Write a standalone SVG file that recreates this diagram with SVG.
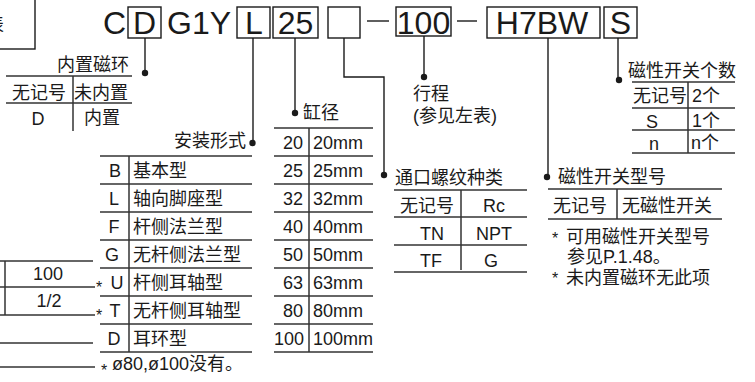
<svg xmlns="http://www.w3.org/2000/svg" width="755" height="382" viewBox="0 0 755 382">
<style>
.t{font-family:"Liberation Sans","Noto Sans CJK SC",sans-serif;fill:#1a1a1a;font-size:18px}
.code{font-size:32px}
.m{text-anchor:middle}
.e{text-anchor:end}
.box{fill:none;stroke:#1a1a1a;stroke-width:1.4}
.tl{stroke:#333;stroke-width:1.5;fill:none}
.cn{stroke:#1a1a1a;stroke-width:1.4;fill:none}
.dot{fill:#1a1a1a}
.ast{font-size:16px}
</style>
<rect width="755" height="382" fill="#fff"/>

<g id="left-box">
<rect class="box" x="-10" y="-5" width="45" height="54"/>
<text class="t e" x="4" y="31" font-size="20">表</text>
</g>

<g id="code">
<text class="t code" x="103" y="34">C</text>
<rect class="box" x="128" y="7" width="33" height="31"/>
<text class="t code m" x="144.5" y="34">D</text>
<text class="t code" x="167" y="34">G1Y</text>
<rect class="box" x="237" y="7" width="33" height="31"/>
<text class="t code m" x="254" y="34">L</text>
<rect class="box" x="273" y="7" width="45" height="31"/>
<text class="t code m" x="295.5" y="34">25</text>
<rect class="box" x="328" y="7" width="32" height="31"/>
<line class="cn" x1="367" y1="21" x2="389" y2="21"/>
<rect class="box" x="396" y="7" width="55" height="29"/>
<text class="t code m" x="423.5" y="34">100</text>
<line class="cn" x1="457" y1="21" x2="477" y2="21"/>
<rect class="box" x="487" y="7" width="113" height="31"/>
<text class="t code m" x="542" y="34">H7BW</text>
<rect class="box" x="604" y="7" width="33" height="31"/>
<text class="t code m" x="620.5" y="34">S</text>
</g>

<g id="connectors">
<line class="cn" x1="145" y1="38" x2="145" y2="73"/>
<circle class="dot" cx="145" cy="73" r="3.2"/>
<line class="cn" x1="253" y1="38" x2="253" y2="143"/>
<circle class="dot" cx="252.5" cy="143" r="3.2"/>
<line class="cn" x1="295" y1="38" x2="295" y2="113"/>
<circle class="dot" cx="295" cy="113" r="3.2"/>
<polyline class="cn" points="344,38 344,77 384,77 384,175"/>
<circle class="dot" cx="384" cy="175" r="3.2"/>
<line class="cn" x1="424" y1="36" x2="424" y2="77"/>
<circle class="dot" cx="424" cy="77" r="3.2"/>
<line class="cn" x1="548" y1="38" x2="548" y2="177"/>
<circle class="dot" cx="547" cy="177" r="3.2"/>
<line class="cn" x1="618" y1="38" x2="618" y2="80"/>
<circle class="dot" cx="619" cy="80" r="3.2"/>
</g>

<g id="magnet">
<text class="t e" x="129" y="71">内置磁环</text>
<line class="tl" x1="6" y1="76" x2="132" y2="76"/>
<line class="tl" x1="6" y1="103" x2="132" y2="103"/>
<line class="tl" x1="73" y1="76" x2="73" y2="131"/>
<text class="t" x="12" y="99">无记号</text>
<text class="t" x="74" y="99">未内置</text>
<text class="t m" x="38" y="125">D</text>
<text class="t m" x="102" y="124">内置</text>
</g>

<g id="left-table">
<line class="tl" x1="0" y1="261" x2="93" y2="261"/>
<line class="tl" x1="0" y1="287" x2="95" y2="287"/>
<line class="tl" x1="0" y1="315" x2="95" y2="315"/>
<line class="tl" x1="0" y1="343" x2="93" y2="343"/>
<line class="tl" x1="0" y1="367" x2="95" y2="367"/>
<line class="tl" x1="5" y1="261" x2="5" y2="315"/>
<text class="t m" x="48" y="280" font-size="17">100</text>
<text class="t m" x="49" y="307" font-size="17">1/2</text>
</g>

<g id="mounting">
<text class="t e" x="246" y="147">安装形式</text>
<g class="tl">
<line x1="100" y1="156" x2="252" y2="156"/>
<line x1="100" y1="184" x2="252" y2="184"/>
<line x1="100" y1="212" x2="252" y2="212"/>
<line x1="100" y1="240" x2="252" y2="240"/>
<line x1="100" y1="268" x2="252" y2="268"/>
<line x1="100" y1="296" x2="252" y2="296"/>
<line x1="100" y1="324" x2="252" y2="324"/>
<line x1="100" y1="352" x2="252" y2="352"/>
<line x1="129" y1="156" x2="129" y2="352"/>
</g>
<text class="t m" x="115" y="177">B</text><text class="t" x="133" y="177">基本型</text>
<text class="t m" x="114" y="205">L</text><text class="t" x="133" y="205">轴向脚座型</text>
<text class="t m" x="114" y="233">F</text><text class="t" x="133" y="233">杆侧法兰型</text>
<text class="t m" x="112" y="261">G</text><text class="t" x="133" y="261">无杆侧法兰型</text>
<text class="t ast" x="96" y="293">*</text><text class="t m" x="117" y="289">U</text><text class="t" x="133" y="289">杆侧耳轴型</text>
<text class="t ast" x="96" y="321">*</text><text class="t m" x="115" y="317">T</text><text class="t" x="133" y="317">无杆侧耳轴型</text>
<text class="t m" x="114" y="345">D</text><text class="t" x="133" y="345">耳环型</text>
<text class="t ast" x="101" y="376">*</text><text class="t" x="112" y="370">ø80,ø100没有。</text>
</g>

<g id="bore">
<text class="t" x="303" y="119">缸径</text>
<g class="tl">
<line x1="274" y1="128" x2="373" y2="128"/>
<line x1="274" y1="156" x2="373" y2="156"/>
<line x1="274" y1="184" x2="373" y2="184"/>
<line x1="274" y1="212" x2="373" y2="212"/>
<line x1="274" y1="240" x2="373" y2="240"/>
<line x1="274" y1="268" x2="373" y2="268"/>
<line x1="274" y1="296" x2="373" y2="296"/>
<line x1="274" y1="324" x2="373" y2="324"/>
<line x1="274" y1="352" x2="373" y2="352"/>
<line x1="309" y1="128" x2="309" y2="352"/>
</g>
<text class="t e" x="303" y="149">20</text><text class="t" x="313" y="149">20mm</text>
<text class="t e" x="303" y="177">25</text><text class="t" x="313" y="177">25mm</text>
<text class="t e" x="303" y="205">32</text><text class="t" x="313" y="205">32mm</text>
<text class="t e" x="303" y="233">40</text><text class="t" x="313" y="233">40mm</text>
<text class="t e" x="303" y="261">50</text><text class="t" x="313" y="261">50mm</text>
<text class="t e" x="303" y="289">63</text><text class="t" x="313" y="289">63mm</text>
<text class="t e" x="303" y="317">80</text><text class="t" x="313" y="317">80mm</text>
<text class="t e" x="304" y="345">100</text><text class="t" x="313" y="345">100mm</text>
</g>

<g id="port">
<text class="t" x="395" y="184">通口螺纹种类</text>
<g class="tl">
<line x1="394" y1="190" x2="527" y2="190"/>
<line x1="394" y1="217" x2="527" y2="217"/>
<line x1="394" y1="245" x2="527" y2="245"/>
<line x1="394" y1="272" x2="527" y2="272"/>
<line x1="461" y1="190" x2="461" y2="270"/>
</g>
<text class="t m" x="427" y="212">无记号</text><text class="t m" x="494" y="212">Rc</text>
<text class="t m" x="432" y="240">TN</text><text class="t m" x="494" y="240">NPT</text>
<text class="t m" x="431" y="267">TF</text><text class="t m" x="491" y="267">G</text>
</g>

<g id="stroke">
<text class="t" x="413" y="100">行程</text>
<text class="t" x="413" y="122">(参见左表)</text>
</g>

<g id="switch">
<text class="t" x="558" y="183">磁性开关型号</text>
<g class="tl">
<line x1="548" y1="189" x2="722" y2="189"/>
<line x1="548" y1="219" x2="722" y2="219"/>
<line x1="617" y1="189" x2="617" y2="219"/>
</g>
<text class="t" x="553" y="212">无记号</text>
<text class="t" x="622" y="212">无磁性开关</text>
<text class="t ast" x="552" y="244">*</text><text class="t" x="566" y="243">可用磁性开关型号</text>
<text class="t" x="567" y="263">参见P.1.48。</text>
<text class="t ast" x="552" y="284">*</text><text class="t" x="566" y="284">未内置磁环无此项</text>
</g>

<g id="count">
<text class="t" x="628" y="77">磁性开关个数</text>
<g class="tl">
<line x1="632" y1="82" x2="735" y2="82"/>
<line x1="632" y1="108" x2="735" y2="108"/>
<line x1="632" y1="130" x2="735" y2="130"/>
<line x1="632" y1="153" x2="735" y2="153"/>
<line x1="688" y1="82" x2="688" y2="153"/>
</g>
<text class="t" x="633" y="102" font-size="17">无记号</text><text class="t" x="692" y="102" font-size="17">2个</text>
<text class="t m" x="652" y="128" font-size="17">S</text><text class="t" x="692" y="127" font-size="15">1个</text>
<text class="t m" x="654" y="150" font-size="17">n</text><text class="t" x="691" y="149" font-size="15">n个</text>
</g>
</svg>
